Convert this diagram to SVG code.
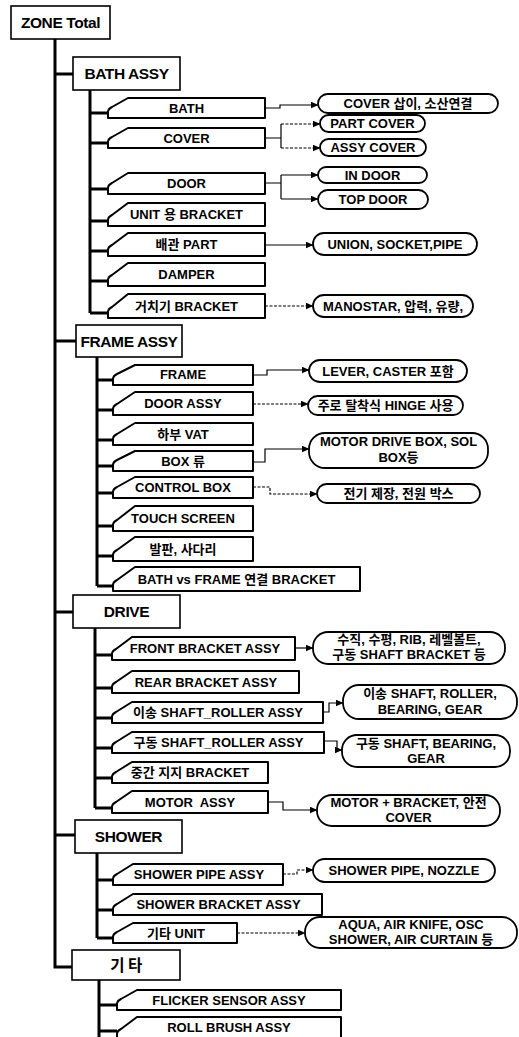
<svg xmlns="http://www.w3.org/2000/svg" width="519" height="1037" viewBox="0 0 519 1037">
<style>
text{font-family:"Liberation Sans","Noto Sans CJK KR",sans-serif;font-weight:bold;fill:#000;text-anchor:middle}
.h{font-size:15.5px;letter-spacing:-0.4px}
.c{font-size:13px}
.r{font-size:13px}
.hb{fill:#fff;stroke:#000;stroke-width:1.6}
.cb{fill:#fff;stroke:#000;stroke-width:2;stroke-linejoin:round}
.ov{fill:#fff;stroke:#000;stroke-width:1.8}
.tr{fill:none;stroke:#000;stroke-width:3}
.ln{fill:none;stroke:#000;stroke-width:1.2}
.ar{fill:none;stroke:#000;stroke-width:1.2;marker-end:url(#a)}
.da{stroke-dasharray:3 1.5}
</style>
<defs>
<marker id="a" markerUnits="userSpaceOnUse" markerWidth="8" markerHeight="7" refX="7.5" refY="3.5" orient="auto">
<path d="M0,0 L8,3.5 L0,7 Z" fill="#000"/>
</marker>
</defs>
<rect width="519" height="1037" fill="#fff"/>

<g id="connectors">
<path class="tr" d="M55,39 V967 H72 M55,74 H73 M55,341 H76 M55,612 H73 M55,835 H75"/>
<path class="tr" d="M90,90 V313 M90,113 H108 M90,143 H108 M90,189 H108 M90,221 H108 M90,251 H108 M90,281 H108 M90,313 H108"/>
<path class="tr" d="M97,357 V586 M97,380 H113 M97,410 H113 M97,440 H113 M97,466 H113 M97,493 H113 M97,526 H113 M97,556 H113 M97,586 H113"/>
<path class="tr" d="M95,628 V808 M95,655 H112 M95,688 H112 M95,718 H112 M95,748 H112 M95,778 H112 M95,808 H112"/>
<path class="tr" d="M97,853 V938 M97,880 H113 M97,910 H113 M97,938 H113"/>
<path class="tr" d="M99,980 V1037 M99,1005 H117 M99,1031 H117"/>

<path class="ar" d="M265,108 H280 V105 H318"/>
<path class="ln" d="M265,138 H281 M281,124 V148"/>
<path class="ar da" d="M281,124 H320"/>
<path class="ar da" d="M281,148 H320"/>
<path class="ln" d="M265,183 H281 M281,175 V199"/>
<path class="ar" d="M281,175 H318"/>
<path class="ar" d="M281,199 H318"/>
<path class="ar" d="M265,245 H313"/>
<path class="ar da" d="M265,306 H313"/>

<path class="ar" d="M253,375 H267 V370 H309"/>
<path class="ar da" d="M253,404 H308"/>
<path class="ar" d="M253,462 H265 V449 H309"/>
<path class="ar da" d="M253,487 H270 V494 H317"/>

<path class="ar" d="M295,648 H313"/>
<path class="ar" d="M323,712 H329 V703 H343"/>
<path class="ar" d="M324,741 H337 V750 H342"/>
<path class="ar" d="M268,802 H283 V810 H317"/>

<path class="ar da" d="M283,874 H297 V870 H313"/>
<path class="ar da" d="M237,933 H305"/>
</g>

<g id="zone-total"><rect class="hb" x="11" y="6" width="99" height="33"/><text class="h" x="60.5" y="28">ZONE Total</text></g>

<g id="bath-assy"><rect class="hb" x="73" y="57" width="107" height="33"/><text class="h" x="126.5" y="79">BATH ASSY</text></g>
<g id="bath"><path class="cb" d="M108,118 V112 Q108,109 112,107 L128,98 H265 V118 Z"/><text class="c" x="186.5" y="112.5">BATH</text></g>
<g id="cover"><path class="cb" d="M108,148 V142 Q108,139 112,137 L128,128 H265 V148 Z"/><text class="c" x="186.5" y="142.5">COVER</text></g>
<g id="door"><path class="cb" d="M108,194 V188 Q108,185 112,183 L128,173 H265 V194 Z"/><text class="c" x="186.5" y="188">DOOR</text></g>
<g id="unit-bracket"><path class="cb" d="M108,226 V220 Q108,217 112,215 L128,203 H265 V226 Z"/><text class="c" x="186.5" y="219">UNIT 용 BRACKET</text></g>
<g id="pipe-part"><path class="cb" d="M108,256 V250 Q108,247 112,245 L128,233 H265 V256 Z"/><text class="c" x="186.5" y="249">배관 PART</text></g>
<g id="damper"><path class="cb" d="M108,286 V280 Q108,277 112,275 L128,263 H265 V286 Z"/><text class="c" x="186.5" y="279">DAMPER</text></g>
<g id="holder-bracket"><path class="cb" d="M108,318 V312 Q108,309 112,307 L128,294 H265 V318 Z"/><text class="c" x="186.5" y="310.5">거치기 BRACKET</text></g>

<g id="r-cover-insert"><rect class="ov" x="318" y="94" width="180" height="19" rx="9.5"/><text class="r" x="408" y="108">COVER 삽이, 소산연결</text></g>
<g id="r-part-cover"><rect class="ov" x="320" y="115" width="105" height="17" rx="8.5"/><text class="r" x="372.5" y="128">PART COVER</text></g>
<g id="r-assy-cover"><rect class="ov" x="320" y="139" width="106" height="17" rx="8.5"/><text class="r" x="373" y="152">ASSY COVER</text></g>
<g id="r-in-door"><rect class="ov" x="318" y="167" width="109" height="16" rx="8"/><text class="r" x="372.5" y="179.5">IN DOOR</text></g>
<g id="r-top-door"><rect class="ov" x="318" y="190" width="110" height="19" rx="9.5"/><text class="r" x="373" y="204">TOP DOOR</text></g>
<g id="r-union"><rect class="ov" x="313" y="233" width="164" height="22" rx="11"/><text class="r" x="395" y="248.5">UNION, SOCKET,PIPE</text></g>
<g id="r-manostar"><rect class="ov" x="313" y="295" width="160" height="22" rx="11"/><text class="r" x="393" y="310.5">MANOSTAR, 압력, 유량,</text></g>

<g id="frame-assy"><rect class="hb" x="76" y="325" width="106" height="32"/><text class="h" x="129" y="346.5">FRAME ASSY</text></g>
<g id="frame"><path class="cb" d="M113,385 V379 Q113,376 117,374 L135,365 H253 V385 Z"/><text class="c" x="183" y="378.5">FRAME</text></g>
<g id="door-assy"><path class="cb" d="M113,415 V409 Q113,406 117,404 L135,392 H253 V415 Z"/><text class="c" x="183" y="408">DOOR ASSY</text></g>
<g id="lower-vat"><path class="cb" d="M113,445 V439 Q113,436 117,434 L135,423 H253 V445 Z"/><text class="c" x="183" y="438.5">하부 VAT</text></g>
<g id="box"><path class="cb" d="M113,471 V465 Q113,462 117,460 L135,451 H253 V471 Z"/><text class="c" x="183" y="465.5">BOX 류</text></g>
<g id="control-box"><path class="cb" d="M113,498 V492 Q113,489 117,487 L135,477 H253 V498 Z"/><text class="c" x="183" y="492">CONTROL BOX</text></g>
<g id="touch-screen"><path class="cb" d="M113,531 V525 Q113,522 117,520 L135,506 H253 V531 Z"/><text class="c" x="183" y="523">TOUCH SCREEN</text></g>
<g id="step-ladder"><path class="cb" d="M113,561 V555 Q113,552 117,550 L135,537 H253 V561 Z"/><text class="c" x="183" y="553.5">발판, 사다리</text></g>
<g id="bath-frame-bracket"><path class="cb" d="M113,591 V585 Q113,582 117,580 L135,567 H360 V591 Z"/><text class="c" x="236.5" y="583.5">BATH vs FRAME 연결 BRACKET</text></g>

<g id="r-lever"><rect class="ov" x="309" y="360" width="158" height="22" rx="11"/><text class="r" x="388" y="375.5">LEVER, CASTER 포함</text></g>
<g id="r-hinge"><rect class="ov" x="308" y="396" width="155" height="19" rx="9.5"/><text class="r" x="385.5" y="410">주로 탈착식 HINGE 사용</text></g>
<g id="r-motor-drive-box"><rect class="ov" x="309" y="433" width="179" height="35" rx="16"/><text class="r" x="398.5" y="446">MOTOR DRIVE BOX, SOL</text><text class="r" x="398.5" y="462">BOX등</text></g>
<g id="r-electric"><rect class="ov" x="317" y="484" width="163" height="19" rx="9.5"/><text class="r" x="398.5" y="498">전기 제장, 전원 박스</text></g>

<g id="drive"><rect class="hb" x="73" y="595" width="107" height="33"/><text class="h" x="126.5" y="617">DRIVE</text></g>
<g id="front-bracket"><path class="cb" d="M112,660 V654 Q112,651 116,649 L132,637 H295 V660 Z"/><text class="c" x="205" y="653">FRONT BRACKET ASSY</text></g>
<g id="rear-bracket"><path class="cb" d="M112,693 V687 Q112,684 116,682 L132,671 H299 V693 Z"/><text class="c" x="206" y="686.5">REAR BRACKET ASSY</text></g>
<g id="transfer-shaft"><path class="cb" d="M112,723 V717 Q112,714 116,712 L132,702 H323 V723 Z"/><text class="c" x="218" y="717">이송 SHAFT_ROLLER ASSY</text></g>
<g id="drive-shaft"><path class="cb" d="M112,753 V747 Q112,744 116,742 L132,732 H324 V753 Z"/><text class="c" x="218.5" y="747">구동 SHAFT_ROLLER ASSY</text></g>
<g id="mid-bracket"><path class="cb" d="M112,783 V777 Q112,774 116,772 L132,762 H268 V783 Z"/><text class="c" x="190" y="777">중간 지지 BRACKET</text></g>
<g id="motor-assy"><path class="cb" d="M112,813 V807 Q112,804 116,802 L132,791 H268 V813 Z"/><text class="c" x="190" y="806.5">MOTOR&#160; ASSY</text></g>

<g id="r-front"><rect class="ov" x="313" y="632" width="192" height="32" rx="15"/><text class="r" x="409" y="644">수직, 수평, RIB, 레벨볼트,</text><text class="r" x="409" y="659">구동 SHAFT BRACKET 등</text></g>
<g id="r-transfer"><rect class="ov" x="343" y="685" width="174" height="34" rx="16"/><text class="r" x="430" y="698">이송 SHAFT, ROLLER,</text><text class="r" x="430" y="714">BEARING, GEAR</text></g>
<g id="r-drive"><rect class="ov" x="342" y="735" width="168" height="32" rx="15"/><text class="r" x="426" y="748">구동 SHAFT, BEARING,</text><text class="r" x="426" y="763">GEAR</text></g>
<g id="r-motor"><rect class="ov" x="317" y="795" width="183" height="31" rx="15"/><text class="r" x="408.5" y="807">MOTOR + BRACKET, 안전</text><text class="r" x="408.5" y="822">COVER</text></g>

<g id="shower"><rect class="hb" x="75" y="820" width="107" height="33"/><text class="h" x="128.5" y="842">SHOWER</text></g>
<g id="shower-pipe"><path class="cb" d="M113,885 V879 Q113,876 117,874 L133,864 H283 V885 Z"/><text class="c" x="199" y="879">SHOWER PIPE ASSY</text></g>
<g id="shower-bracket"><path class="cb" d="M113,915 V909 Q113,906 117,904 L133,894 H322 V915 Z"/><text class="c" x="218.5" y="909">SHOWER BRACKET ASSY</text></g>
<g id="other-unit"><path class="cb" d="M113,943 V937 Q113,934 117,932 L133,923 H237 V943 Z"/><text class="c" x="176" y="937.5">기타 UNIT</text></g>

<g id="r-shower-pipe"><rect class="ov" x="313" y="859" width="182" height="23" rx="11.5"/><text class="r" x="404" y="875">SHOWER PIPE, NOZZLE</text></g>
<g id="r-aqua"><rect class="ov" x="305" y="917" width="212" height="31" rx="15"/><text class="r" x="411" y="929">AQUA, AIR KNIFE, OSC</text><text class="r" x="411" y="944">SHOWER, AIR CURTAIN 등</text></g>

<g id="etc"><rect class="hb" x="72" y="950" width="108" height="30"/><text class="h" x="126" y="970.5">기 타</text></g>
<g id="flicker-sensor"><path class="cb" d="M117,1010 V1004 Q117,1001 121,999 L137,990 H341 V1010 Z"/><text class="c" x="229" y="1004.5">FLICKER SENSOR ASSY</text></g>
<g id="roll-brush"><path class="cb" d="M117,1040 V1034 Q117,1031 121,1029 L137,1017 H341 V1040 Z"/><text class="c" x="229" y="1031.5">ROLL BRUSH ASSY</text></g>
</svg>
